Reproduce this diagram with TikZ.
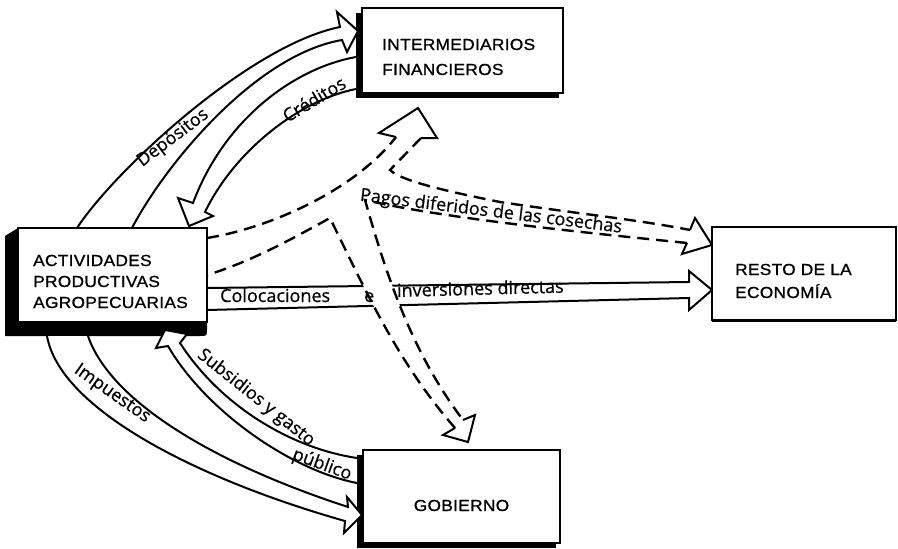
\documentclass[tikz,border=0pt]{standalone}
\usepackage{fontspec}
\setmainfont{Liberation Sans}
\newfontfamily\boxfont[FakeStretch=1.08,LetterSpace=2,FakeBold=1]{Liberation Sans}
\newfontfamily\lblfont[FakeBold=0.6]{Open Sans}
\usetikzlibrary{calc}
\pgfdeclarelayer{shadow}
\pgfdeclarelayer{flow}
\pgfsetlayers{shadow,flow,main}

\begin{document}
\begin{tikzpicture}[x=1pt,y=-1pt,
  boxshape/.style={draw=black, line width=1.8pt, fill=white, inner sep=0pt, outer sep=0pt},
  shade/.style={fill=black},
  boxtext/.style={font=\boxfont\fontsize{16}{19}\selectfont, anchor=base west, inner sep=0pt},
  lbl/.style={font=\lblfont\fontsize{18}{21}\selectfont, inner sep=0pt},
  flow/.style={draw=black, line width=2pt, fill=white, line join=miter, miter limit=20},
  dashline/.style={draw=black, line width=2.4pt, dash pattern=on 12pt off 7pt},
  headline/.style={draw=black, line width=2pt, line join=miter, miter limit=20},
]
\useasboundingbox (0,0) rectangle (898,549);

% the four sectors
\node[boxshape, minimum width=189pt, minimum height=94pt] (act) at (112.5,275) {};
\node[boxshape, minimum width=201pt, minimum height=85pt] (fin) at (462.5,50.5) {};
\node[boxshape, minimum width=184pt, minimum height=93pt] (resto) at (804,273.5) {};
\node[boxshape, minimum width=197pt, minimum height=93pt] (gob) at (461.5,496.5) {};

\node[boxtext] (act1) at ($(act.north west)+(15,38)$) {ACTIVIDADES};
\node[boxtext] (act2) at ($(act.north west)+(15,59)$) {PRODUCTIVAS};
\node[boxtext] (act3) at ($(act.north west)+(15,80)$) {AGROPECUARIAS};
\node[boxtext] (fin1) at ($(fin.north west)+(20,42)$) {INTERMEDIARIOS};
\node[boxtext] (fin2) at ($(fin.north west)+(20,67)$) {FINANCIEROS};
\node[boxtext] (resto1) at ($(resto.north west)+(23,48)$) {RESTO DE LA};
\node[boxtext] (resto2) at ($(resto.north west)+(23,71)$) {ECONOMÍA};
\node[boxtext, anchor=base] (gob1) at ($(gob.north)+(0,61)$) {GOBIERNO};

% heavy shadows of the boxes
\begin{pgfonlayer}{shadow}
  \fill[shade] ($(act.north west)+(-13,8)$) -- (act.north west) -- (act.north east)
    -- ($(act.south east)+(0,7)$) .. controls ($(act.south east)+(0,14)$) .. ($(act.south east)+(-7,14)$)
    -- ($(act.south west)+(-13,14)$) -- cycle;
  \fill[shade] ($(fin.north west)+(-6,5)$) rectangle ($(fin.south east)+(-4,5)$);
  \fill[shade] ($(gob.north west)+(-6,5)$) rectangle ($(gob.south east)+(-4,5)$);
  \fill[shade] ($(resto.south west)+(0,-2)$) rectangle ($(resto.south east)+(0,2)$);
\end{pgfonlayer}

\begin{pgfonlayer}{flow}
  % Depositos: act -> fin
  \coordinate (dep1) at ($(act.north west)+(59,0)$);
  \coordinate (dep2) at ($(act.north west)+(114,0)$);
  \coordinate (deptip) at ($(fin.north west)+(-4,23)$);
  \draw[flow] (dep1) .. controls (115,170) and (250,45) .. (340,27) -- (337,12) -- (deptip)
    -- (347,52) -- (342,40) .. controls (255,55) and (165,165) .. (dep2);
  % Creditos: fin -> act
  \coordinate (cre1) at ($(fin.north west)+(-6,49)$);
  \coordinate (cre2) at ($(fin.north west)+(-6,81)$);
  \coordinate (cretip) at ($(act.north east)+(-18,-2)$);
  \draw[flow] (cre1) .. controls (295,68) and (225,118) .. (193,203) -- (178,198) -- (cretip)
    -- (213,216) -- (205,212) .. controls (235,150) and (300,100) .. (cre2);
  % Colocaciones e inversiones directas: act -> resto
  \coordinate (col1) at ($(act.north east)+(0,60)$);
  \coordinate (col2) at ($(act.north east)+(0,82)$);
  \coordinate (coltip) at ($(resto.north west)+(0,63)$);
  \draw[flow] (col1) -- (689,282) -- (689,271) -- (coltip) -- (689,310) -- (689,298) -- (col2);
  % Impuestos: act -> gob
  \coordinate (imp1) at ($(act.south west)+(29,14)$);
  \coordinate (imp2) at ($(act.south west)+(70,14)$);
  \coordinate (imptip) at ($(gob.north west)+(-1,65)$);
  \draw[flow] (imp1) .. controls (60,410) and (200,480) .. (345,521) -- (344,533) -- (imptip)
    -- (347,497) -- (348,507) .. controls (210,462) and (110,400) .. (imp2);
  % Subsidios y gasto publico: gob -> act
  \coordinate (sub1) at ($(gob.north west)+(-6,8)$);
  \coordinate (sub2) at ($(gob.north west)+(-6,33)$);
  \coordinate (subtip) at ($(act.south west)+(147,8)$);
  \draw[flow] (sub1) .. controls (290,448) and (220,405) .. (180,343) -- (187,334) -- (subtip)
    -- (156,348) -- (168,346) .. controls (205,410) and (290,470) .. (sub2);

  % dashed flows leaving act towards fin, resto and gob
  \coordinate (dsh1) at ($(act.north east)+(0,10)$);
  \coordinate (dsh2) at ($(act.north east)+(0,47)$);
  \coordinate (fintip) at ($(fin.south west)+(56,15)$);
  \coordinate (pagtip) at ($(resto.north west)+(0,18)$);
  \coordinate (gobtip) at ($(gob.north west)+(105,-8)$);
  \fill[white] (dsh1) .. controls (270,228) and (355,190) .. (396,137) -- (379,133) -- (fintip)
    -- (437,138) -- (421,138) -- (390,170) .. controls (400,180) and (440,190) .. (500,202)
    .. controls (580,214) and (640,220) .. (690,230) -- (695,218) -- (pagtip) -- (682,254)
    -- (687,243) .. controls (620,236) and (450,220) .. (365,200)
    .. controls (385,270) and (410,350) .. (463,420) -- (475,415) -- (gobtip) -- (443,435)
    -- (455,428) .. controls (400,365) and (370,300) .. (330,218)
    .. controls (290,240) and (250,262) .. (dsh2) -- cycle;
  \draw[dashline] (dsh1) .. controls (270,228) and (355,190) .. (396,137);
  \draw[dashline] (421,138) -- (390,170) .. controls (400,180) and (440,190) .. (500,202)
    .. controls (580,214) and (640,220) .. (690,230);
  \draw[dashline] (687,243) .. controls (620,236) and (450,220) .. (365,200)
    .. controls (385,270) and (410,350) .. (463,420);
  \draw[dashline] (455,428) .. controls (400,365) and (370,300) .. (330,218)
    .. controls (290,240) and (250,262) .. (dsh2);
  \draw[headline] (396,137) -- (379,133) -- (fintip) -- (437,138) -- (421,138);
  \draw[headline] (690,230) -- (695,218) -- (pagtip) -- (682,254) -- (687,243);
  \draw[headline] (463,420) -- (475,415) -- (gobtip) -- (443,435) -- (455,428);
\end{pgfonlayer}

% labels of the flows
\node[lbl, rotate=37] (ldep) at (173,138) {Depósitos};
\node[lbl, rotate=31] (lcre) at (314,99) {Créditos};
\node[lbl, anchor=base west] (lcol) at (220,302) {Colocaciones};
\node[lbl, anchor=base west] (le) at (364,302) {e};
\node[lbl, anchor=base west, rotate=1.5] (linv) at (397,297) {inversiones directas};
\node[lbl, rotate=-7] (lpag) at (491,212) {Pagos diferidos de las cosechas};
\node[lbl, rotate=-35] (limp) at (112,394) {Impuestos};
\node[lbl, rotate=-38.5] (lsub) at (256,398) {Subsidios y gasto};
\node[lbl, rotate=-20] (lpub) at (322,465) {público};
\end{tikzpicture}
\end{document}
